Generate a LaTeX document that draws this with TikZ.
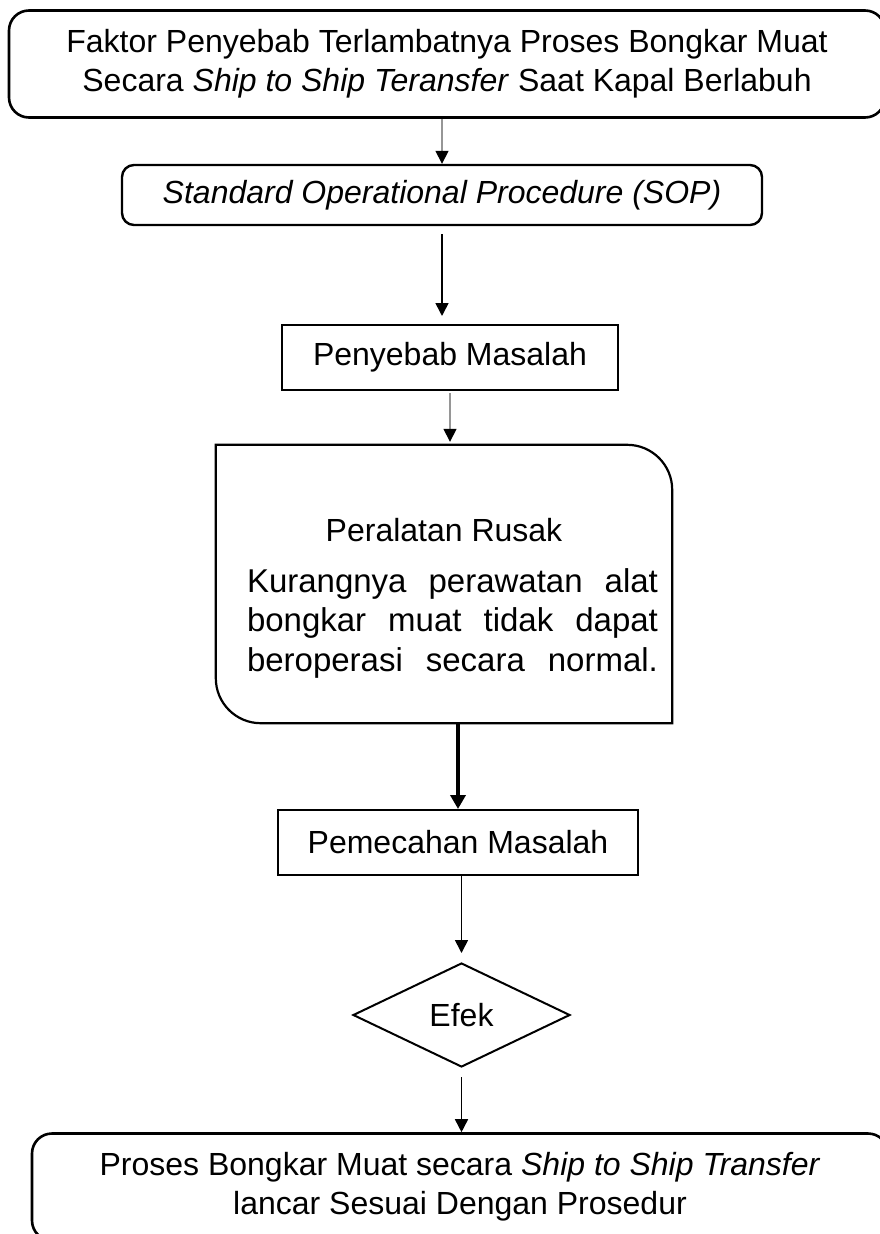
\documentclass[tikz,border=0pt]{standalone}
\usepackage{fontspec}
\setmainfont{Liberation Sans}
\usepackage{tikz}
\usetikzlibrary{calc,arrows.meta,shapes,shapes.geometric,positioning}
\definecolor{abu}{RGB}{150,150,150}

\begin{document}
\begin{tikzpicture}[x=1pt,y=1pt,
	kotak/.style={draw,line width=2pt,inner sep=0pt,align=center,font=\fontsize{32}{39}\selectfont},
	panah/.style={-{Triangle[width=13pt,length=13pt]},line width=1.6pt}]
		\useasboundingbox (0,0) rectangle (879,-1234);
		\node[kotak,rounded corners=20pt,line width=2.6pt,minimum width=876pt,minimum height=107pt] (faktor) at (447,-64) {Faktor Penyebab Terlambatnya Proses Bongkar Muat\\Secara \textit{Ship to Ship Teransfer} Saat Kapal Berlabuh};
		\node[kotak,rounded corners=12pt,line width=2.4pt,minimum width=640pt,minimum height=60pt] (sop) at (442,-195) {\textit{Standard Operational Procedure (SOP)}};
		\node[kotak,minimum width=336pt,minimum height=65pt] (sebab) at (450,-357.5) {Penyebab Masalah};
		\node[inner sep=0pt,minimum width=456pt,minimum height=278pt] (rusak) at (444,-584) {};
		\draw[line width=2.2pt] (rusak.north west) -- ($(rusak.north east)+(-45,0)$) arc[start angle=90,end angle=0,radius=45pt] -- (rusak.south east) -- ($(rusak.south west)+(45,0)$) arc[start angle=270,end angle=180,radius=45pt] -- cycle;
		\node[inner sep=0pt,font=\fontsize{32}{39}\selectfont] (rusakjudul) at (444,-530) {Peralatan Rusak};
		\node[align=center,inner sep=0pt,font=\fontsize{33}{39.5}\selectfont] (rusakisi) at (452.5,-623) {\makebox[411pt][s]{Kurangnya perawatan alat}\\\makebox[411pt][s]{bongkar muat tidak dapat}\\\makebox[411pt][s]{beroperasi secara normal.}};
		\node[kotak,minimum width=360pt,minimum height=65pt] (pecah) at (458,-842.5) {Pemecahan Masalah};
		\node[kotak,diamond,aspect=2,minimum width=217pt,minimum height=104pt] (efek) at (461.5,-1015) {Efek};
		\node[kotak,rounded corners=20pt,line width=2.6pt,minimum width=856pt,minimum height=107pt] (hasil) at (460,-1187) {Proses Bongkar Muat secara \textit{Ship to Ship Transfer}\\lancar Sesuai Dengan Prosedur};
		
		\draw[panah,abu,-{Triangle[width=13pt,length=13pt,fill=black,color=black]}] (faktor.south -| sop.north) -- (sop.north);
		\draw[panah,shorten <=8pt,shorten >=8pt] (sop.south) -- (sop.south |- sebab.north);
		\draw[panah,abu,-{Triangle[width=13pt,length=13pt,fill=black,color=black]},shorten <=2pt,shorten >=3pt] (sebab.south) -- (sebab.south |- rusak.north);
		\draw[panah,line width=4.5pt,-{Triangle[width=15pt,length=14pt]}] (pecah.north |- rusak.south) -- (pecah.north);
		\draw[panah,shorten >=9pt] (pecah.south -| efek.north) -- (efek.north);
		\draw[panah,shorten <=9pt] (efek.south) -- (efek.south |- hasil.north);
		
	\end{tikzpicture}
\end{document}
